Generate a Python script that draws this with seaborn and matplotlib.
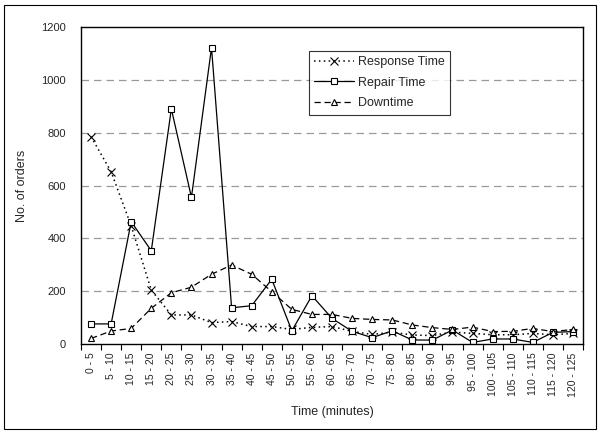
import numpy as np
import pandas as pd
import matplotlib
matplotlib.use('Agg')
import matplotlib.pyplot as plt
import seaborn as sns
from matplotlib.patches import Rectangle

sns.set_style('white')
plt.rcParams['font.family'] = ['Liberation Sans', 'DejaVu Sans']

# data
bins = ['0 - 5', '5 - 10', '10 - 15', '15 - 20', '20 - 25', '25 - 30', '30 - 35',
        '35 - 40', '40 - 45', '45 - 50', '50 - 55', '55 - 60', '60 - 65', '65 - 70',
        '70 - 75', '75 - 80', '80 - 85', '85 - 90', '90 - 95', '95 - 100',
        '100 - 105', '105 - 110', '110 - 115', '115 - 120', '120 - 125']
response_time = [785, 652, 447, 204, 110, 110, 81, 85, 66, 66, 55, 63, 66, 48,
                 36, 45, 34, 32, 45, 40, 35, 35, 40, 35, 40]
repair_time = [76, 76, 463, 353, 890, 555, 1122, 137, 145, 245, 50, 183, 97, 48,
               24, 50, 15, 15, 53, 6, 19, 19, 6, 44, 47]
downtime = [21, 49, 59, 135, 194, 215, 264, 299, 264, 198, 131, 112, 112, 97,
            93, 91, 72, 62, 55, 64, 47, 48, 59, 47, 55]

pos = np.arange(len(bins))

fig = plt.figure(figsize=(6.01, 4.33), dpi=100)
ax = fig.add_axes([81 / 601, 1 - 344 / 433, (583 - 81) / 601, (344 - 27) / 433])

sns.lineplot(x=pos, y=response_time, ax=ax, color='black', linewidth=1.1,
             linestyle=(0, (1, 2.2)), marker='x', markersize=5.5,
             markeredgecolor='black', markeredgewidth=0.8, label='Response Time')
sns.lineplot(x=pos, y=repair_time, ax=ax, color='black', linewidth=0.9,
             marker='s', markersize=4.5, markerfacecolor='white',
             markeredgecolor='black', markeredgewidth=0.8, label='Repair Time')
sns.lineplot(x=pos, y=downtime, ax=ax, color='black', linewidth=0.9,
             linestyle=(0, (5, 3)), marker='^', markersize=5, markerfacecolor='white',
             markeredgecolor='black', markeredgewidth=0.8, label='Downtime')

ax.set_xlim(-0.5, len(bins) - 0.5)
ax.set_ylim(0, 1200)
ax.set_yticks(np.arange(0, 1201, 200))
ax.tick_params(axis='y', length=0, labelsize=8, pad=11)
for yv in range(200, 1200, 200):
    ax.axhline(yv, color='#999999', linewidth=0.9, linestyle=(0, (6, 4)), zorder=0)

# ticks between categories, labels at category centres
ax.set_xticks(np.arange(-0.5, len(bins)), minor=False)
ax.set_xticklabels([])
ax.set_xticks(pos, minor=True)
ax.set_xticklabels(bins, minor=True, rotation=90, fontsize=7.5)
ax.tick_params(axis='x', which='major', direction='out', length=4, width=0.8,
               color='black', bottom=True)
ax.tick_params(axis='x', which='minor', length=0, pad=6)

for side in ['left', 'right', 'top', 'bottom']:
    ax.spines[side].set_color('black')
    ax.spines[side].set_linewidth(1)

ax.set_xlabel('Time (minutes)', fontsize=9)
ax.set_ylabel('No. of orders', fontsize=9)
ax.xaxis.set_label_coords(0.5, -0.197)
ax.yaxis.set_label_coords(-0.105, 0.5)

leg = ax.legend(loc='upper left', bbox_to_anchor=(309 / 601, 1 - 51 / 433),
                bbox_transform=fig.transFigure, borderaxespad=0, fontsize=9,
                frameon=True, fancybox=False, edgecolor='black', handlelength=3.2,
                handletextpad=0.3, labelspacing=0.7, borderpad=0.4)
leg.get_frame().set_linewidth(0.8)

# outer chart border
fig.patches.append(Rectangle((4 / 601, 4 / 433), 592 / 601, 424 / 433,
                             transform=fig.transFigure, fill=False,
                             edgecolor='black', linewidth=0.8))

fig.savefig('out.png', dpi=100)
